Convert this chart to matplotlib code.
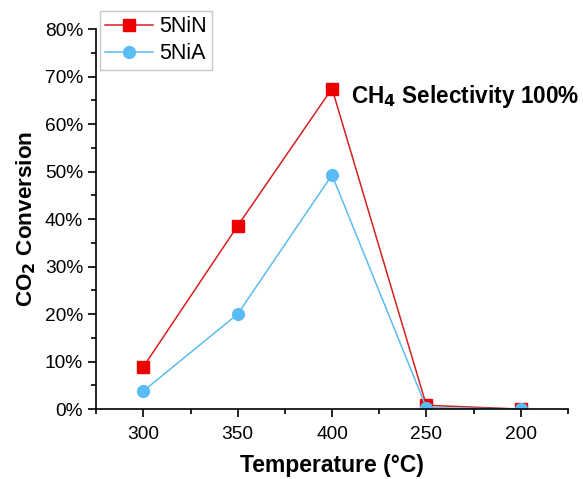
import numpy as np
import matplotlib
matplotlib.use("Agg")
import matplotlib.pyplot as plt
from matplotlib.ticker import MultipleLocator, FuncFormatter

# datos
temperaturas = ["300", "350", "400", "250", "200"]
conv_5NiN = [8.9, 38.6, 67.5, 0.8, 0.0]
conv_5NiA = [3.8, 20.0, 49.3, 0.3, 0.0]

plt.rcParams['font.family'] = ['Liberation Sans', 'DejaVu Sans']

fig = plt.figure(figsize=(5.83, 4.79), dpi=100)
ax = fig.add_axes([0.165, 0.146, 0.809, 0.793])

x = np.arange(len(temperaturas))
ax.plot(x, conv_5NiN, '-s', color='#d42020', markerfacecolor='#ee0000',
        markeredgecolor='#ee0000', markersize=8, linewidth=1.1, label='5NiN')
ax.plot(x, conv_5NiA, '-o', color='#5bbcf0', markerfacecolor='#5bbcf5',
        markeredgecolor='#5bbcf5', markersize=8.5, linewidth=1.1, label='5NiA')

ax.set_xlim(-0.5, 4.5)
ax.set_ylim(0, 80)
ax.set_xticks(x)
ax.set_xticklabels(temperaturas)
ax.xaxis.set_minor_locator(MultipleLocator(0.5))
ax.yaxis.set_major_locator(MultipleLocator(10))
ax.yaxis.set_minor_locator(MultipleLocator(5))
ax.yaxis.set_major_formatter(FuncFormatter(lambda v, p: f"{v:.0f}%"))

for lado in ['top', 'right']:
    ax.spines[lado].set_visible(False)
for lado in ['left', 'bottom']:
    ax.spines[lado].set_linewidth(1.2)
ax.tick_params(which='major', direction='out', length=6, width=1.2, labelsize=13.8)
ax.tick_params(axis='x', which='major', pad=6)
ax.tick_params(which='minor', direction='out', length=3.5, width=1.2)

ax.set_xlabel("Temperature (°C)", fontsize=16.5, fontweight='bold', labelpad=8)
ax.set_ylabel("CO$_\\mathbf{2}$ Conversion", fontsize=16.2, fontweight='bold', labelpad=5)

ax.text(2.2, 65.8, "CH$_\\mathbf{4}$ Selectivity 100%", fontsize=16.3,
        fontweight='bold', ha='left', va='center')

# leyenda arriba a la izquierda, sobresale del borde superior del eje
leg = ax.legend(loc='upper left', bbox_to_anchor=(0.1715, 0.977),
                bbox_transform=fig.transFigure, fontsize=15.5, frameon=True,
                fancybox=False, edgecolor='#bbbbbb', borderpad=0.25,
                handlelength=2.2, handletextpad=0.3, labelspacing=0.28,
                borderaxespad=0)
leg.get_frame().set_linewidth(1.0)

fig.savefig("out.png", dpi=100)
